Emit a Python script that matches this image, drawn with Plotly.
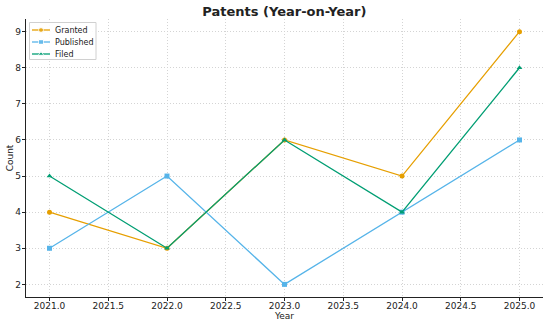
import plotly.graph_objects as go

years = [2021, 2022, 2023, 2024, 2025]
granted = [4, 3, 6, 5, 9]
published = [3, 5, 2, 4, 6]
filed = [5, 3, 6, 4, 8]
x_ticks = [2021.0, 2021.5, 2022.0, 2022.5, 2023.0, 2023.5, 2024.0, 2024.5, 2025.0]
y_ticks = [2, 3, 4, 5, 6, 7, 8, 9]

series = [
    ("Granted", granted, "#E69F00", "circle"),
    ("Published", published, "#56B4E9", "square"),
    ("Filed", filed, "#009E73", "triangle-up"),
]

# plot-area in pixels (used for an overlay axis to place the legend)
L, R, T, B = 26, 543, 19, 297

fig = go.Figure()
for name, vals, color, sym in series:
    fig.add_trace(go.Scatter(
        x=years, y=vals, name=name, mode="lines+markers",
        line=dict(color=color, width=1.3),
        marker=dict(symbol=sym, size=5, color=color),
        showlegend=False,
    ))

# manual compact legend on an overlay pixel axis
bx0, bx1, by0, by1 = 29.5, 96, 22.5, 59.5
fig.add_trace(go.Scatter(
    x=[bx0, bx1, bx1, bx0, bx0], y=[by0, by0, by1, by1, by0],
    mode="lines", fill="toself", fillcolor="rgba(255,255,255,0.9)",
    line=dict(color="#d0d0d0", width=1), xaxis="x2", yaxis="y2",
    showlegend=False, hoverinfo="skip",
))
for i, (name, vals, color, sym) in enumerate(series):
    yy = 30 + i * 12
    fig.add_trace(go.Scatter(
        x=[32, 41, 50], y=[yy, yy, yy], mode="lines+markers", xaxis="x2", yaxis="y2",
        line=dict(color=color, width=1.3),
        marker=dict(symbol=sym, size=[0, 5, 0], color=color),
        showlegend=False, hoverinfo="skip",
    ))
    fig.add_annotation(x=53, y=yy, xref="x2", yref="y2", text=name, showarrow=False,
                       xanchor="left", yanchor="middle", font=dict(size=8, color="#222"))

font = "DejaVu Sans"
fig.update_layout(
    width=548, height=327,
    margin=dict(l=L, r=548 - R, t=T, b=327 - B),
    paper_bgcolor="white", plot_bgcolor="white",
    font=dict(family=font, size=9, color="#222"),
    title=dict(text="<b>Patents (Year-on-Year)</b>", x=0.519, xanchor="center",
               y=0.965, yanchor="middle", font=dict(size=13, color="#222")),
    showlegend=False,
    xaxis2=dict(overlaying="x", range=[L, R], visible=False, fixedrange=True),
    yaxis2=dict(overlaying="y", range=[B, T], visible=False, fixedrange=True),
)
fig.update_layout(xaxis=dict(
    range=[2020.8, 2025.2], tickvals=x_ticks,
    ticktext=[f"{v:.1f}" for v in x_ticks],
    showgrid=True, gridcolor="#d4d4d4", griddash="1px,2px", gridwidth=0.8,
    showline=True, linecolor="#222", linewidth=1.2,
    ticks="outside", ticklen=3, tickcolor="#222",
    zeroline=False, ticklabelstandoff=-3,
    title=dict(text="Year", font=dict(size=9), standoff=0),
))
fig.update_layout(yaxis=dict(
    range=[1.65, 9.35], tickvals=y_ticks,
    showgrid=True, gridcolor="#d4d4d4", griddash="1px,2px", gridwidth=0.8,
    showline=True, linecolor="#222", linewidth=1.2,
    ticks="outside", ticklen=3, tickcolor="#222",
    zeroline=False, ticklabelstandoff=-1,
    title=dict(text="Count", font=dict(size=9), standoff=0),
))

fig.write_html("out.html")
